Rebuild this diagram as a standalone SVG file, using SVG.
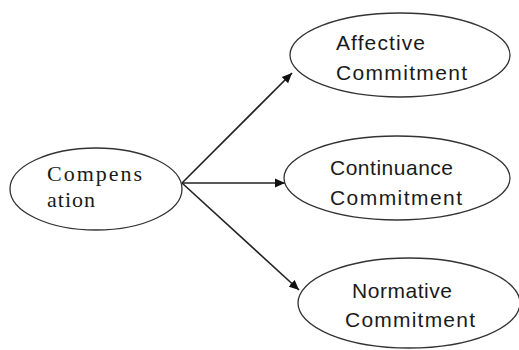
<svg xmlns="http://www.w3.org/2000/svg" width="519" height="350" viewBox="0 0 519 350">
<style>
.node{fill:#fff;stroke:#333;stroke-width:1.3}
.serif{font-family:"Liberation Serif",serif;font-size:22px;fill:#1a1a1a}
.sans{font-family:"Liberation Sans",Arial,sans-serif;font-size:21px;fill:#1a1a1a}
.conn{stroke:#222;stroke-width:1.6;fill:none;marker-end:url(#ah)}
</style>
<defs>
<marker id="ah" viewBox="0 0 10 10" refX="10" refY="5" markerWidth="10" markerHeight="10" markerUnits="userSpaceOnUse" orient="auto">
<path d="M0,0.5 L10,5 L0,9.5 Z" fill="#111"/>
</marker>
</defs>
<rect width="519" height="350" fill="#fff"/>
<g id="connectors">
<line class="conn" x1="182" y1="183" x2="292" y2="73"/>
<line class="conn" x1="182" y1="183" x2="285" y2="183"/>
<line class="conn" x1="182" y1="183" x2="299" y2="290"/>
</g>
<g id="compensation">
<ellipse class="node" cx="96" cy="189" rx="86" ry="41"/>
<text class="serif" x="47" y="181" textLength="95" lengthAdjust="spacing">Compens</text>
<text class="serif" x="47" y="207" textLength="48" lengthAdjust="spacing">ation</text>
</g>
<g id="affective">
<ellipse class="node" cx="400" cy="55" rx="110" ry="42"/>
<text class="sans" x="336" y="50" textLength="89" lengthAdjust="spacing">Affective</text>
<text class="sans" x="336" y="80" textLength="131" lengthAdjust="spacing">Commitment</text>
</g>
<g id="continuance">
<ellipse class="node" cx="397" cy="178" rx="113" ry="42"/>
<text class="sans" x="330" y="175" textLength="123" lengthAdjust="spacing">Continuance</text>
<text class="sans" x="330" y="205" textLength="132" lengthAdjust="spacing">Commitment</text>
</g>
<g id="normative">
<ellipse class="node" cx="409" cy="303" rx="111" ry="45"/>
<text class="sans" x="352" y="298" textLength="100" lengthAdjust="spacing">Normative</text>
<text class="sans" x="345" y="327" textLength="130" lengthAdjust="spacing">Commitment</text>
</g>
</svg>
